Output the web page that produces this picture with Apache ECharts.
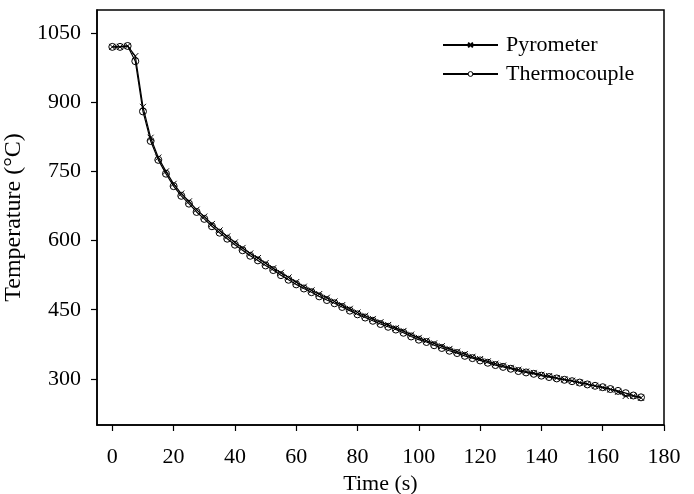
<!DOCTYPE html>
<html>
<head>
<meta charset="utf-8">
<script src="https://cdn.jsdelivr.net/npm/echarts@6/dist/echarts.min.js"></script>
<style>
    html, body { margin: 0; padding: 0; background: #fff; }
    #main { width: 694px; height: 494px; }
</style>
</head>
<body>
<div id="main"></div>
<script>
// 时间 (s)
var times = [0, 2.5, 5, 7.5, 10, 12.5, 15, 17.5, 20, 22.5, 25, 27.5, 30, 32.5, 35, 37.5, 40, 42.5, 45, 47.5,
    50, 52.5, 55, 57.5, 60, 62.5, 65, 67.5, 70, 72.5, 75, 77.5, 80, 82.5, 85, 87.5, 90, 92.5, 95, 97.5,
    100, 102.5, 105, 107.5, 110, 112.5, 115, 117.5, 120, 122.5, 125, 127.5, 130, 132.5, 135, 137.5, 140, 142.5, 145, 147.5,
    150, 152.5, 155, 157.5, 160, 162.5, 165, 167.5, 170, 172.5];

var pyrometer = [1020, 1020, 1022, 1000, 890, 823, 780, 750, 723, 702, 685, 667, 652, 636, 622, 609, 596, 584, 572, 562,
    551, 540, 530, 520, 510, 500, 492, 484, 476, 468, 460, 452, 444, 437, 430, 423, 417, 410, 404, 396,
    389, 383, 377, 371, 365, 359, 354, 348, 343, 338, 333, 329, 324, 320, 316, 313, 309, 306, 302, 299,
    296, 292, 289, 285, 281, 277, 272, 263, 263, 259];

var thermocouple = [1020, 1020, 1022, 989, 880, 816, 775, 745, 718, 697, 680, 662, 647, 631, 617, 604, 591, 579, 567, 557,
    546, 536, 525, 515, 505, 496, 488, 479, 471, 464, 456, 448, 440, 433, 426, 419, 413, 407, 400, 392,
    385, 380, 373, 367, 361, 356, 350, 345, 340, 335, 330, 326, 322, 317, 314, 311, 307, 304, 301, 298,
    295, 292, 288, 285, 282, 278, 274, 269, 264, 260];

var xTicks = [0, 20, 40, 60, 80, 100, 120, 140, 160, 180];
var yTicks = [300, 450, 600, 750, 900, 1050];

var font = "'Liberation Serif', 'Times New Roman', serif";

function pairs(ys) {
    var out = [];
    for (var i = 0; i < times.length; i++) {
        out.push([times[i], ys[i]]);
    }
    return out;
}

var myChart = echarts.init(document.getElementById('main'), null, { renderer: 'canvas' });

var option = {
    backgroundColor: '#fff',
    animation: false,
    textStyle: { fontFamily: font, color: '#000' },
    grid: {
        left: 97,
        right: 30,
        top: 10,
        bottom: 69,
        outerBoundsMode: 'none',
        containLabel: false,
        show: true,
        borderColor: '#000',
        borderWidth: 1.5
    },
    legend: {
        left: 437,
        top: 29,
        orient: 'vertical',
        itemWidth: 55,
        itemHeight: 6,
        itemGap: 7,
        textStyle: { fontFamily: font, fontSize: 22, color: '#000', padding: [0, 0, 0, 3] },
        data: [
            { name: 'Pyrometer' },
            { name: 'Thermocouple', itemStyle: { color: '#fff', borderColor: '#000', borderWidth: 1 } }
        ]
    },
    xAxis: {
        type: 'value',
        min: -5,
        max: 180,
        name: 'Time (s)',
        nameLocation: 'middle',
        nameGap: 41,
        nameTextStyle: { fontFamily: font, fontSize: 22, color: '#000' },
        axisLine: { onZero: false, lineStyle: { color: '#000', width: 1.5 } },
        axisTick: { show: true, length: 6, customValues: xTicks, lineStyle: { color: '#000', width: 1.2 } },
        axisLabel: {
            customValues: xTicks, margin: 21, fontFamily: font, fontSize: 22, color: '#000',
            formatter: function (v) { return String(v); }
        },
        splitLine: { show: false }
    },
    yAxis: {
        type: 'value',
        min: 200,
        max: 1100,
        name: 'Temperature (°C)',
        nameLocation: 'middle',
        nameGap: 63,
        nameTextStyle: { fontFamily: font, fontSize: 24, color: '#000' },
        axisLine: { onZero: false, lineStyle: { color: '#000', width: 1.5 } },
        axisTick: { show: true, length: 6, customValues: yTicks, lineStyle: { color: '#000', width: 1.2 } },
        axisLabel: {
            customValues: yTicks, margin: 16, fontFamily: font, fontSize: 22, color: '#000',
            formatter: function (v) { return String(v); }
        },
        splitLine: { show: false }
    },
    series: [
        {
            name: 'Pyrometer',
            type: 'line',
            data: pairs(pyrometer),
            symbol: 'path://M0,0L10,10M10,0L0,10',
            symbolSize: 6,
            lineStyle: { color: '#000', width: 1.2 },
            itemStyle: { color: '#000', borderColor: '#000', borderWidth: 1 }
        },
        {
            name: 'Thermocouple',
            type: 'line',
            data: pairs(thermocouple),
            symbol: 'circle',
            symbolSize: 7,
            lineStyle: { color: '#000', width: 1.2 },
            itemStyle: { color: 'rgba(255,255,255,0)', borderColor: '#000', borderWidth: 1 }
        }
    ]
};

myChart.setOption(option, true);
</script>
</body>
</html>
